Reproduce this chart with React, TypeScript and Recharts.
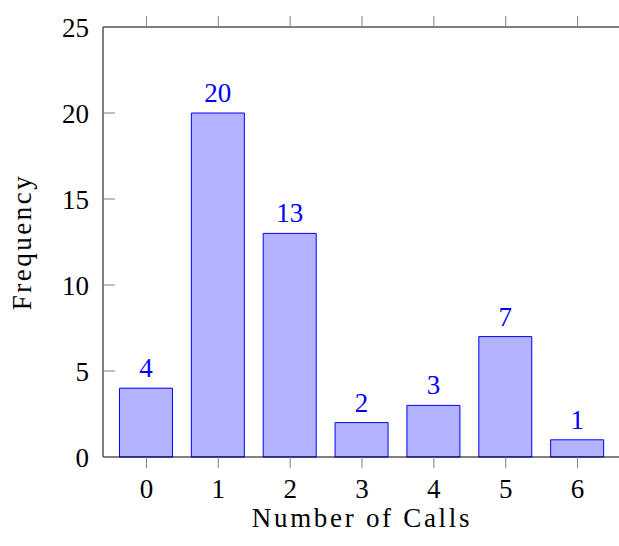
import React from 'react';
import { BarChart, Bar, XAxis, YAxis, LabelList } from 'recharts';

const calls = ['0', '1', '2', '3', '4', '5', '6'];
const frequency = [4, 20, 13, 2, 3, 7, 1];
const yTicks = [0, 5, 10, 15, 20, 25];

const font = "'Liberation Serif', 'Times New Roman', serif";
const fontSize = 27;
const tickColor = '#808080';

const data = calls.map((c, i) => ({ calls: c, freq: frequency[i] }));

const NoLabel = () => <g />;

export default function App() {
    return (
        <div style={{ position: 'absolute', left: 0, top: 0, width: 619, height: 546, overflow: 'hidden', background: '#fff', fontFamily: font }}>
            <BarChart width={622} height={546} data={data} margin={{ top: 0, right: 0, bottom: 0, left: 0 }}>
                <XAxis
                    dataKey="calls"
                    height={89}
                    padding={{ left: 7.5, right: 7.5 }}
                    axisLine={{ stroke: '#000' }}
                    tickLine={{ stroke: tickColor }}
                    tickSize={11}
                    tickMargin={11}
                    tick={{ fill: '#000', fontSize, fontFamily: font }}
                    label={{ value: 'Number of Calls', position: 'insideBottom', offset: 19, fill: '#000', fontSize, fontFamily: font, style: { letterSpacing: '2.7px' } }}
                />
                <XAxis
                    xAxisId="top"
                    orientation="top"
                    dataKey="calls"
                    height={27}
                    padding={{ left: 7.5, right: 7.5 }}
                    axisLine={{ stroke: '#000' }}
                    tickLine={{ stroke: tickColor }}
                    tickSize={11}
                    tick={NoLabel}
                />
                <YAxis
                    width={103}
                    domain={[0, 25]}
                    ticks={yTicks}
                    axisLine={{ stroke: '#000' }}
                    tickLine={{ stroke: tickColor }}
                    tickSize={-12}
                    tickMargin={26}
                    tick={{ fill: '#000', fontSize, fontFamily: font }}
                    label={{ value: 'Frequency', angle: -90, position: 'insideLeft', offset: 21.5, fill: '#000', fontSize, fontFamily: font, style: { textAnchor: 'middle', letterSpacing: '2.5px' } }}
                />
                <YAxis
                    yAxisId="right"
                    orientation="right"
                    width={1}
                    domain={[0, 25]}
                    ticks={yTicks}
                    axisLine={{ stroke: '#000' }}
                    tickLine={{ stroke: tickColor }}
                    tickSize={-11}
                    tick={NoLabel}
                />
                <Bar dataKey="freq" barSize={53} fill="#b3b3ff" stroke="#0000ff" strokeWidth={1} isAnimationActive={false}>
                    <LabelList dataKey="freq" position="top" offset={11} fill="#0000ff" fontSize={fontSize} fontFamily={font} />
                </Bar>
            </BarChart>
        </div>
    );
}
